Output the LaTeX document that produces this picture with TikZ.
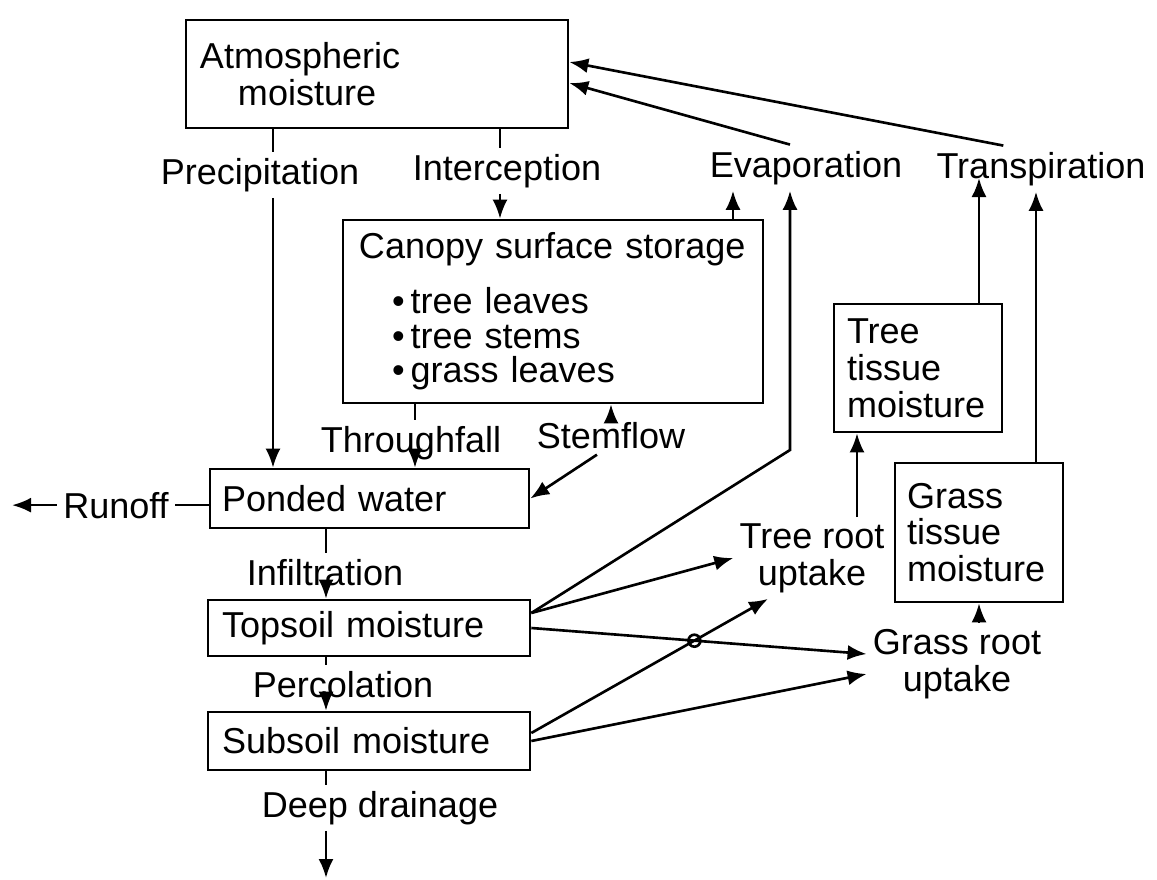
\documentclass[tikz,border=0pt]{standalone}
\usepackage{fontspec}
\setmainfont{Liberation Sans}
\usetikzlibrary{arrows.meta}
\newcommand\flowfont{\fontsize{20.5}{21}\selectfont}
\tikzset{%
    >={Latex[length=3.8mm,width=3mm]},
    every path/.style={line width=1.5pt},
    store/.style={draw, rectangle, align=left, font=\flowfont, inner ysep=0pt},
    flow/.style={font=\flowfont, inner sep=1mm}
}
% name, x, y, width, height, left pad, text width, text
\newcommand\Store[8]{%
    \node[store, minimum width=#4mm, minimum height=#5mm, inner xsep=#6mm,
          text width=#7mm] (#1) at (#2,#3) {#8}
}

\begin{document}
\begin{tikzpicture}[x=0.2mm, y=-0.2mm]
    \useasboundingbox (0,0) rectangle (1157,880);

    % stores
    \Store{atmos}{377}{74}{76.4}{21.6}{2.8}{70.8}{Atmospheric\\\hspace*{7.6mm}moisture};
    \Store{canopy}{553}{311.5}{84}{36.6}{3.2}{77.6}{\mbox{Canopy surface storage}\\[3.6mm]
        \hspace*{6.6mm}\textbullet\,tree leaves\\[-0.4mm]
        \hspace*{6.6mm}\textbullet\,tree stems\\[-0.6mm]
        \hspace*{6.6mm}\textbullet\,grass leaves};
    \Store{ponded}{369.5}{498.5}{63.8}{11.8}{2.4}{59}{Ponded water};
    \Store{topsoil}{369}{628}{64.4}{11.2}{2.8}{58.8}{Topsoil moisture};
    \Store{subsoil}{369}{741}{64.4}{11.6}{2.8}{58.8}{Subsoil moisture};
    \Store{treetis}{918}{368}{33.6}{25.6}{2.6}{28.4}{Tree\\tissue\\moisture};
    \Store{grasstis}{979}{532.5}{33.6}{27.8}{2.4}{28.8}{Grass\\tissue\\moisture};

    % flows
    \node[flow, anchor=base] (prec) at (260,184) {Precipitation};
    \node[flow, anchor=base] (intc) at (507,180) {Interception};
    \node[flow, anchor=base] (evap) at (806,177) {Evaporation};
    \node[flow, anchor=base] (transp) at (1041,178) {Transpiration};
    \node[flow, anchor=base] (thru) at (411,452) {Throughfall};
    \node[flow, anchor=base] (stem) at (611,448) {Stemflow};
    \node[flow, anchor=base] (runoff) at (116,518) {Runoff};
    \node[flow, anchor=base] (infil) at (325,585) {Infiltration};
    \node[flow, anchor=base] (perc) at (343,697) {Percolation};
    \node[flow, anchor=base] (deep) at (380,817) {Deep drainage};
    \node[flow, align=center] (treeroot) at (812,558) {Tree root\\uptake};
    \node[flow, align=center] (grassroot) at (957,664) {Grass root\\uptake};

    \coordinate (xP) at (273,0);
    \coordinate (xI) at (500,0);
    \coordinate (xC) at (733,0);
    \coordinate (xF) at (415,0);
    \coordinate (xS) at (326,0);
    \coordinate (xT) at (979,0);
    \coordinate (xG) at (1036,0);
    \coordinate (xR) at (857,0);
    \coordinate (bend) at (790,450);
    \coordinate (runend) at (12,0);
    \coordinate (deepend) at (326,878);
    \coordinate (ts-up) at ([yshift=3mm]topsoil.east);
    \coordinate (ss-up) at ([yshift=1.6mm]subsoil.east);
    \coordinate (gr-a) at ([yshift=2mm]grassroot.west);
    \coordinate (gr-b) at ([yshift=-2mm]grassroot.west);
    \coordinate (tr-b) at ([xshift=-8.8mm]treeroot.south);

    % atmosphere down
    \draw (atmos.south -| xP) -- (prec.north -| xP);
    \draw[->] (prec.south -| xP) -- (ponded.north -| xP);
    \draw (atmos.south -| xI) -- (intc.north -| xI);
    \draw[->] (intc.south -| xI) -- (canopy.north -| xI);

    % back up to the atmosphere
    \draw[->] (canopy.north -| xC) -- (evap.south -| xC);
    \draw[->] (ts-up) -- (bend) -- (evap.south -| bend);
    \draw[->] (evap.north -| bend) -- ([yshift=-1.8mm]atmos.east);
    \draw[->] (transp.north -| treetis.east) -- ([yshift=2.4mm]atmos.east);
    \draw[->] (treetis.north -| xT) -- (transp.base -| xT);
    \draw[->] (grasstis.north -| xG) -- (transp.south -| xG);
    \draw[->] (treeroot.north -| xR) -- (treetis.south -| xR);
    \draw[->] (grassroot.north -| grasstis.south) -- (grasstis.south);

    % canopy to ground
    \draw (canopy.south -| xF) -- (thru.north -| xF);
    \draw[->] (thru.base -| xF) -- (ponded.north -| xF);
    \draw[->] (stem.north) -- (canopy.south -| stem.north);
    \draw[->] ([xshift=-2.8mm]stem.south) -- (ponded.east);
    \draw (ponded.west |- runoff.east) -- (runoff.east);
    \draw[->] (runoff.west) -- (runoff.west -| runend);

    % soil column
    \draw (ponded.south -| xS) -- (infil.north -| xS);
    \draw[->] (infil.south -| xS) -- (topsoil.north -| xS);
    \draw (topsoil.south -| xS) -- (perc.north -| xS);
    \draw[->] (perc.south -| xS) -- (subsoil.north -| xS);
    \draw (subsoil.south -| xS) -- (deep.north -| xS);
    \draw[->] (deep.south -| xS) -- (deepend);

    % root uptake
    \draw[->] (ts-up) -- (treeroot.west);
    \draw[->] (topsoil.east) -- (gr-a);
    \draw[->] (ss-up) -- (tr-b);
    \draw[->] (subsoil.east) -- (gr-b);
    \draw (intersection of topsoil.east--gr-a and ss-up--tr-b) circle (1.2mm);
\end{tikzpicture}
\end{document}
